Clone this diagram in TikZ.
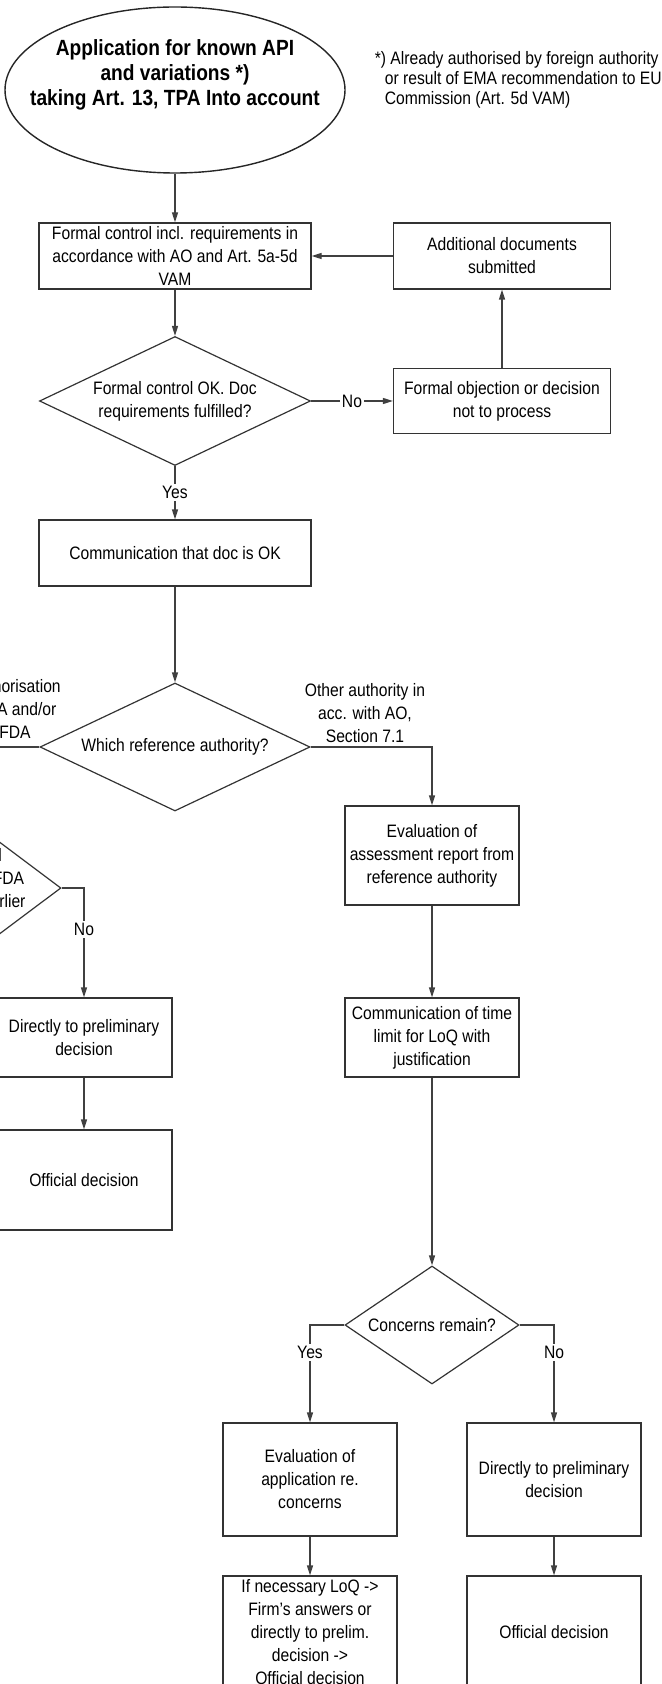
\documentclass[tikz,border=0pt]{standalone}
\usepackage{fontspec}
\setmainfont{Liberation Sans}[FakeStretch=0.87]
\usetikzlibrary{shapes.geometric}
\usetikzlibrary{arrows.meta}

\tikzset{
  boxfont/.style={font=\fontsize{9}{11.5}\selectfont},
  titlefont/.style={font=\fontsize{11}{12.5}\selectfont\bfseries},
  flowbox/.style={draw=black!80, line width=0.6pt, fill=white, align=center, inner sep=0pt, boxfont},
  decision/.style={diamond, draw=black!80, line width=0.6pt, aspect=2, inner sep=0pt, align=center, boxfont},
  flowline/.style={draw=black!75, line width=0.6pt},
  flowarrow/.style={flowline, -{Triangle[length=5pt,width=3pt]}},
  answer/.style={fill=white, inner sep=1pt, boxfont},
  remark/.style={align=center, inner sep=0pt, boxfont},
}

\begin{document}
\begin{tikzpicture}[x=0.5pt, y=-0.5pt]
    \useasboundingbox (0,0) rectangle (662,1684);

    \node[ellipse, draw=black!85, line width=0.7pt, minimum width=170pt, minimum height=83pt, inner sep=0pt] (app) at (175,90) {};
    \node[remark, titlefont] (apptext) at (175,75)
          {Application for known API\\ and variations *)\\ taking Art. 13, TPA Into account};
    \node[remark, align=left, anchor=north east, font=\fontsize{9}{10}\selectfont] (note) at (662,51)
          {*) Already authorised by foreign authority\\
           \hspace*{5pt}or result of EMA recommendation to EU\\
           \hspace*{5pt}Commission (Art. 5d VAM)};

    \node[flowbox, minimum width=136pt, minimum height=33pt] (ctrl) at (175,256)
          {Formal control incl. requirements in\\ accordance with AO and Art. 5a-5d\\ VAM};
    \node[flowbox, minimum width=108.5pt, minimum height=33pt] (docs) at (502,256)
          {Additional documents\\ submitted};
    \node[decision, minimum width=135.5pt, minimum height=64.5pt] (okq) at (175,401)
          {Formal control OK. Doc\\ requirements fulfilled?};
    \node[flowbox, minimum width=108.5pt, minimum height=32.5pt] (reject) at (502,401)
          {Formal objection or decision\\ not to process};
    \node[flowbox, minimum width=136pt, minimum height=33pt] (docok) at (175,553)
          {Communication that doc is OK};

    \node[decision, minimum width=135pt, minimum height=64pt] (refq) at (175,747)
          {Which reference authority?};
    \node[remark] (authEF) at (15,709) {Authorisation\\ EMA and/or\\ FDA};
    \node[remark] (authOther) at (365,713) {Other authority in\\ acc. with AO,\\ Section 7.1};

    \node[decision, aspect=1.33, minimum width=100pt, minimum height=75pt] (sameq) at (-39,888) {};
    \node[remark] (sametext) at (-35,878) {Is identical\\ EMA and/or FDA\\ authorised earlier};
    \node[flowbox, minimum width=88pt, minimum height=39.5pt] (prelimL) at (84,1037.5)
          {Directly to preliminary\\ decision};
    \node[flowbox, minimum width=88pt, minimum height=50pt] (officialL) at (84,1180)
          {Official decision};

    \node[flowbox, minimum width=87pt, minimum height=49.5pt] (evalrep) at (432,855.5)
          {Evaluation of\\ assessment report from\\ reference authority};
    \node[flowbox, minimum width=87pt, minimum height=39.5pt] (timelim) at (432,1037.5)
          {Communication of time\\ limit for LoQ with\\ justification};
    \node[decision, minimum width=87pt, minimum height=59pt] (concq) at (432,1325)
          {Concerns remain?};
    \node[flowbox, minimum width=87pt, minimum height=56.5pt] (evalconc) at (310,1479.5)
          {Evaluation of\\ application re.\\ concerns};
    \node[flowbox, minimum width=87pt, minimum height=56.5pt] (prelimR) at (554,1479.5)
          {Directly to preliminary\\ decision};
    \node[flowbox, minimum width=87pt, minimum height=56pt] (loq) at (310,1632)
          {If necessary LoQ ->\\ Firm's answers or\\ directly to prelim.\\ decision ->\\ Official decision};
    \node[flowbox, minimum width=87pt, minimum height=56pt] (officialR) at (554,1632)
          {Official decision};

    \draw[flowarrow] (app) -- (ctrl);
    \draw[flowarrow] (docs) -- (ctrl);
    \draw[flowarrow] (ctrl) -- (okq);
    \draw[flowarrow] (okq) -- node[answer] {No} (reject);
    \draw[flowarrow] (reject) -- (docs);
    \draw[flowarrow] (okq) -- node[answer] {Yes} (docok);
    \draw[flowarrow] (docok) -- (refq);
    \draw[flowarrow] (refq.west) -| (sameq.north);
    \draw[flowarrow] (refq.east) -| (evalrep.north);
    \draw[flowarrow] (sameq.east) -| node[answer, pos=0.69] {No} (prelimL.north);
    \draw[flowarrow] (prelimL) -- (officialL);
    \draw[flowarrow] (evalrep) -- (timelim);
    \draw[flowarrow] (timelim) -- (concq);
    \draw[flowarrow] (concq.west) -| node[answer, pos=0.64] {Yes} (evalconc.north);
    \draw[flowarrow] (concq.east) -| node[answer, pos=0.64] {No} (prelimR.north);
    \draw[flowarrow] (evalconc) -- (loq);
    \draw[flowarrow] (prelimR) -- (officialR);
\end{tikzpicture}
\end{document}
